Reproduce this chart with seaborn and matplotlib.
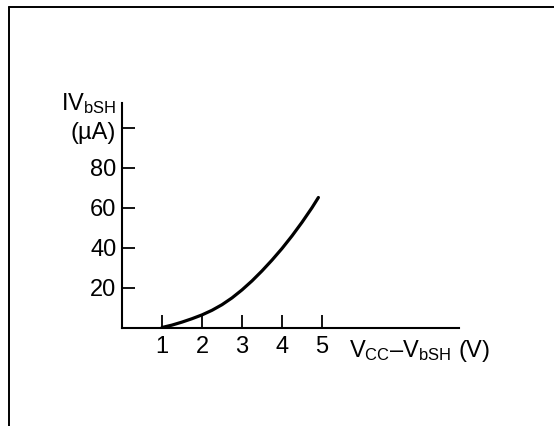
import matplotlib
matplotlib.use("Agg")
import matplotlib.pyplot as plt
from matplotlib.lines import Line2D
import seaborn as sns
import pandas as pd

# Data
vdiff = [1.0, 1.25, 1.5, 1.75, 2.0, 2.25, 2.5, 2.75, 3.0, 3.25, 3.5, 3.75, 4.0, 4.25, 4.5, 4.75, 4.91]
current = [0.0, 1.2, 2.7, 4.4, 6.3, 8.6, 11.4, 14.8, 18.8, 23.3, 28.3, 33.7, 39.5, 45.8, 52.6, 59.9, 65.0]
x_ticks = [1, 2, 3, 4, 5]
x_tick_labels = ["1", "2", "3", "4", "5"]
y_ticks = [20, 40, 60, 80, 100]
y_tick_labels = ["20", "40", "60", "80", ""]

sns.set_theme(style="white")
plt.rcParams["font.family"] = ["Liberation Sans", "DejaVu Sans"]
plt.rcParams["mathtext.fontset"] = "custom"
plt.rcParams["mathtext.rm"] = "Liberation Sans"
plt.rcParams["mathtext.it"] = "Liberation Sans"

FS = 17

W, H = 554, 426
fig = plt.figure(figsize=(W / 100, H / 100), dpi=100)
fig.patch.set_facecolor("white")

ax_left, ax_right, ax_bottom_px, ax_top_px = 122, 459, 327.5, 103
ax = fig.add_axes([ax_left / W, (H - ax_bottom_px) / H,
                   (ax_right - ax_left) / W, (ax_bottom_px - ax_top_px) / H])

df = pd.DataFrame({"vdiff": vdiff, "current": current})
sns.lineplot(data=df, x="vdiff", y="current", ax=ax, color="black", linewidth=2.3,
             sort=False, estimator=None)

ax.set_xlim(0, (ax_right - ax_left) / 40.0)
ax.set_ylim(0, (ax_bottom_px - ax_top_px) / 2.0)

for s in ["top", "right"]:
    ax.spines[s].set_visible(False)
for s in ["left", "bottom"]:
    ax.spines[s].set_color("black")
    ax.spines[s].set_linewidth(1.5)

ax.set_xticks(x_ticks)
ax.set_xticklabels(x_tick_labels)
ax.set_yticks(y_ticks)
ax.set_yticklabels(y_tick_labels)
ax.tick_params(axis="both", direction="in", length=9.5, width=1.3, color="black",
               labelsize=FS, labelcolor="black", bottom=True, left=True)
ax.tick_params(axis="x", pad=6)
ax.tick_params(axis="y", pad=4)
ax.set_xlabel("")
ax.set_ylabel("")
ax.grid(False)

# Y axis label (two lines, right-aligned left of the axis)
fig.text(116 / W, (H - 110) / H, r"IV$_{\mathrm{bSH}}$", ha="right", va="baseline",
         fontsize=FS, color="black")
fig.text(116 / W, (H - 139) / H, "(µA)", ha="right", va="baseline",
         fontsize=FS, color="black")

# X axis label
fig.text(349 / W, (H - 357) / H, r"V$_{\mathrm{CC}}$–V$_{\mathrm{bSH}}$ (V)", ha="left",
         va="baseline", fontsize=FS, color="black")

# Partial frame (top and left lines)
fig.add_artist(Line2D([9 / W, 1.0], [(H - 7) / H, (H - 7) / H], transform=fig.transFigure,
                      color="black", linewidth=1.4))
fig.add_artist(Line2D([9 / W, 9 / W], [(H - 7) / H, 0.0], transform=fig.transFigure,
                      color="black", linewidth=1.4))

fig.savefig("out.png", dpi=100, facecolor="white")
